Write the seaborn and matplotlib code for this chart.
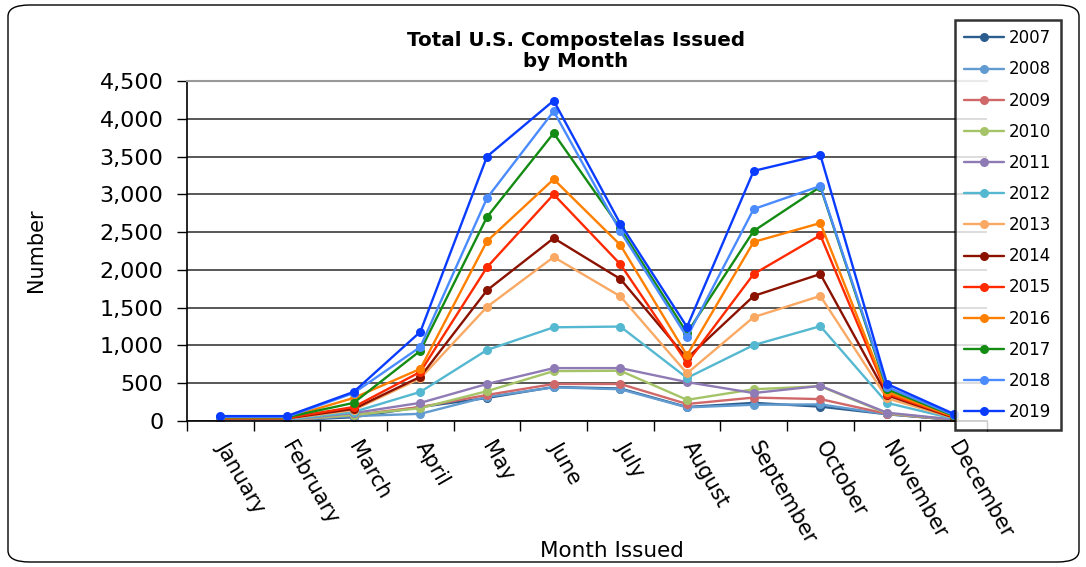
import matplotlib
matplotlib.use('Agg')
import matplotlib.pyplot as plt
import numpy as np
import pandas as pd
import seaborn as sns
from matplotlib.patches import FancyBboxPatch
from matplotlib.ticker import StrMethodFormatter, FixedLocator

sns.set_style('white')
plt.rcParams['font.family'] = ['DejaVu Sans']
plt.rcParams['text.color'] = 'black'
plt.rcParams['xtick.color'] = 'black'
plt.rcParams['ytick.color'] = 'black'

# 数据
months = ['January', 'February', 'March', 'April', 'May', 'June', 'July',
          'August', 'September', 'October', 'November', 'December']

y2007 = [10, 10, 50, 185, 305, 450, 430, 185, 240, 190, 90, 15]
y2008 = [10, 10, 65, 95, 320, 445, 420, 180, 215, 220, 90, 15]
y2009 = [10, 10, 80, 185, 345, 490, 490, 225, 310, 290, 95, 15]
y2010 = [15, 15, 80, 170, 395, 660, 665, 280, 420, 460, 100, 20]
y2011 = [15, 15, 105, 240, 490, 700, 700, 515, 370, 465, 110, 20]
y2012 = [20, 20, 120, 385, 940, 1240, 1250, 570, 1005, 1255, 240, 30]
y2013 = [30, 30, 145, 565, 1510, 2170, 1650, 630, 1375, 1655, 300, 40]
y2014 = [35, 35, 160, 585, 1730, 2420, 1880, 830, 1655, 1945, 340, 45]
y2015 = [40, 40, 185, 650, 2035, 3000, 2075, 770, 1945, 2460, 360, 55]
y2016 = [45, 45, 305, 690, 2380, 3200, 2330, 870, 2370, 2620, 385, 60]
y2017 = [50, 50, 240, 930, 2700, 3810, 2550, 1165, 2515, 3100, 420, 70]
y2018 = [55, 55, 370, 980, 2950, 4100, 2510, 1110, 2805, 3110, 450, 80]
y2019 = [65, 65, 385, 1180, 3500, 4240, 2610, 1245, 3310, 3520, 490, 95]

years = ['2007', '2008', '2009', '2010', '2011', '2012', '2013',
         '2014', '2015', '2016', '2017', '2018', '2019']
series = [y2007, y2008, y2009, y2010, y2011, y2012, y2013,
          y2014, y2015, y2016, y2017, y2018, y2019]
colors = ['#2C5D8F', '#619BD0', '#D0686A', '#A5C467', '#8E7AB4', '#55B8D1',
          '#F9A964', '#8B1200', '#FF2A00', '#FF7F00', '#148C14', '#4A8BFF',
          '#0A3CFF']

df = pd.DataFrame({
    'Month': months * len(years),
    'Year': np.repeat(years, len(months)),
    'Number': np.concatenate(series),
})

fig = plt.figure(figsize=(10.86, 5.67), dpi=100)
ax = fig.add_axes([187 / 1086, 1 - 421 / 567, 800 / 1086, 340 / 567])

# 外框(圆角)
border = FancyBboxPatch((8 / 1086, 5 / 567), 1071 / 1086, 557 / 567,
                        boxstyle='round,pad=0,rounding_size=0.02',
                        transform=fig.transFigure, fill=False,
                        edgecolor='black', linewidth=1.0, zorder=0)
fig.patches.append(border)

sns.lineplot(data=df, x='Month', y='Number', hue='Year', hue_order=years,
             palette=colors, marker='o', markersize=6.5, markeredgewidth=0,
             linewidth=1.7, sort=False, ax=ax, legend=True)

ax.set_xlim(-0.5, 11.5)
ax.set_ylim(0, 4500)
ax.yaxis.set_major_locator(FixedLocator(np.arange(0, 4501, 500)))
ax.yaxis.set_major_formatter(StrMethodFormatter('{x:,.0f}'))
ax.yaxis.grid(True, color='#2a2a2a', linewidth=1.1)
ax.set_axisbelow(True)

ax.set_xticks(range(12))
ax.set_xticklabels(months, rotation=-60, ha='left', va='center',
                   rotation_mode='anchor', fontsize=15)
ax.set_xticks(np.arange(-0.5, 12, 1), minor=True)
ax.tick_params(axis='x', which='major', length=0, pad=16)
ax.tick_params(axis='x', which='minor', length=7, width=1, color='black',
               direction='out', bottom=True)
ax.tick_params(axis='y', length=7, width=1, color='black', direction='out',
               left=True, labelsize=16, pad=10)

for s in ['left', 'bottom']:
    ax.spines[s].set_color('black')
    ax.spines[s].set_linewidth(1.2)
ax.spines['top'].set_color('#999999')
ax.spines['top'].set_linewidth(1.5)
ax.spines['right'].set_visible(False)

ax.set_xlabel('')
ax.set_ylabel('')
fig.text(36 / 1086, 1 - 250 / 567, 'Number', rotation=90, ha='center',
         va='center', fontsize=15)
fig.text(612 / 1086, 1 - 551 / 567, 'Month Issued', ha='center',
         va='center', fontsize=15.5)
fig.text(576 / 1086, 1 - 51 / 567, 'Total U.S. Compostelas Issued\nby Month',
         ha='center', va='center', fontsize=14.3, fontweight='bold',
         linespacing=1.1)

handles, labels = ax.get_legend_handles_labels()
ax.get_legend().remove()
leg = fig.legend(handles, labels, loc='upper left',
                 bbox_to_anchor=(955 / 1086, 1 - 20 / 567), borderaxespad=0,
                 fontsize=12, frameon=True, fancybox=False,
                 handlelength=2.4, labelspacing=0.79, borderpad=0.55,
                 handletextpad=0.3)
leg.get_frame().set_edgecolor('black')
leg.get_frame().set_linewidth(1.8)
leg.set_zorder(10)

fig.savefig('out.png', dpi=100)
